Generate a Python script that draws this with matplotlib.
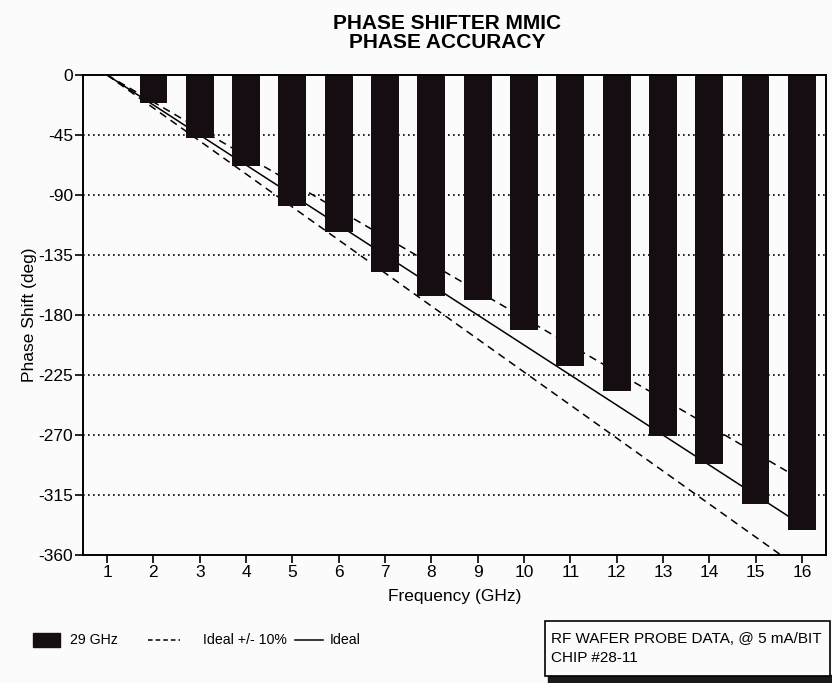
import matplotlib.pyplot as plt
import matplotlib.lines as mlines
import matplotlib.patches as mpatches
import numpy as np

plt.rcParams['font.family'] = ['Liberation Sans Narrow', 'Liberation Sans', 'DejaVu Sans']
plt.rcParams['axes.unicode_minus'] = False

# phase state index on the x axis, measured phase shift per state
states = [2, 3, 4, 5, 6, 7, 8, 9, 10, 11, 12, 13, 14, 15, 16]
phase = [-21, -47, -68, -98, -118, -148, -166, -169, -191, -218, -237, -271, -292, -322, -341]
step_deg = 22.5
tol = 0.10

x_ticks = list(range(1, 17))
y_ticks = list(range(0, -361, -45))

fig = plt.figure(figsize=(8.32, 6.83), dpi=100, facecolor='#fbfbfb')
ax = fig.add_axes([83 / 832, 1 - 555 / 683, (826 - 83) / 832, (555 - 75) / 683])
ax.set_facecolor('#fbfbfb')

# ideal phase and +/- 10% limits
xi = np.array(x_ticks, dtype=float)
ideal = -step_deg * (xi - 1)
ax.plot(xi, ideal, color='k', lw=1.1, zorder=2)
ax.plot(xi, ideal * (1 - tol), color='k', lw=1.1, ls=(0, (5, 3.5)), zorder=2)
ax.plot(xi, ideal * (1 + tol), color='k', lw=1.1, ls=(0, (5, 3.5)), zorder=2)

ax.bar(states, phase, width=0.6, color='#150d11', zorder=3)

ax.set_xlim(0.48, 16.52)
ax.set_ylim(-360, 0)
ax.set_xticks(x_ticks)
ax.set_yticks(y_ticks)
ax.tick_params(axis='both', direction='out', length=6, width=1.2, labelsize=12.5, pad=1.5)
ax.tick_params(axis='y', pad=1)

for y in y_ticks[1:-1]:
    ax.axhline(y, color='k', lw=1.2, ls=(0, (1, 2)), zorder=1)

for s in ax.spines.values():
    s.set_linewidth(1.4)
    s.set_zorder(4)

ax.set_xlabel('Frequency (GHz)', fontsize=12.5, labelpad=6)
ax.set_ylabel('Phase Shift (deg)', fontsize=12.5, labelpad=1)

fig.text(0.537, 1 - 33 / 683, 'PHASE SHIFTER MMIC\nPHASE ACCURACY', ha='center', va='center',
         fontsize=15, fontweight='bold', linespacing=1.0)

# legend row under the axes
ly = 1 - 640 / 683
fig.patches.append(mpatches.Rectangle((33 / 832, ly - 7 / 683), 27 / 832, 14 / 683,
                                      transform=fig.transFigure, color='#150d11'))
fig.text(70 / 832, ly, '29 GHz', ha='left', va='center', fontsize=10.2)
fig.lines.append(mlines.Line2D([148 / 832, 180 / 832], [ly, ly], transform=fig.transFigure,
                               color='k', lw=1.1, ls=(0, (3, 2))))
fig.text(203 / 832, ly, 'Ideal +/- 10%', ha='left', va='center', fontsize=10.2)
fig.lines.append(mlines.Line2D([295 / 832, 323 / 832], [ly, ly], transform=fig.transFigure,
                               color='k', lw=1.1))
fig.text(330 / 832, ly, 'Ideal', ha='left', va='center', fontsize=10.2)

# note box with a dark shadow underneath
fig.patches.append(mpatches.Rectangle((548 / 832, 0), 284 / 832, 8 / 683,
                                      transform=fig.transFigure, color='#1a1a1a'))
fig.patches.append(mpatches.Rectangle((545 / 832, 1 - 676 / 683), 285 / 832, 55 / 683,
                                      transform=fig.transFigure, facecolor='#fbfbfb',
                                      edgecolor='k', lw=1.2))
fig.text(551 / 832, 1 - 639 / 683, 'RF WAFER PROBE DATA, @ 5 mA/BIT', ha='left', va='center', fontsize=11)
fig.text(551 / 832, 1 - 658 / 683, 'CHIP #28-11', ha='left', va='center', fontsize=11)

fig.savefig('out.png', dpi=100, facecolor=fig.get_facecolor())
